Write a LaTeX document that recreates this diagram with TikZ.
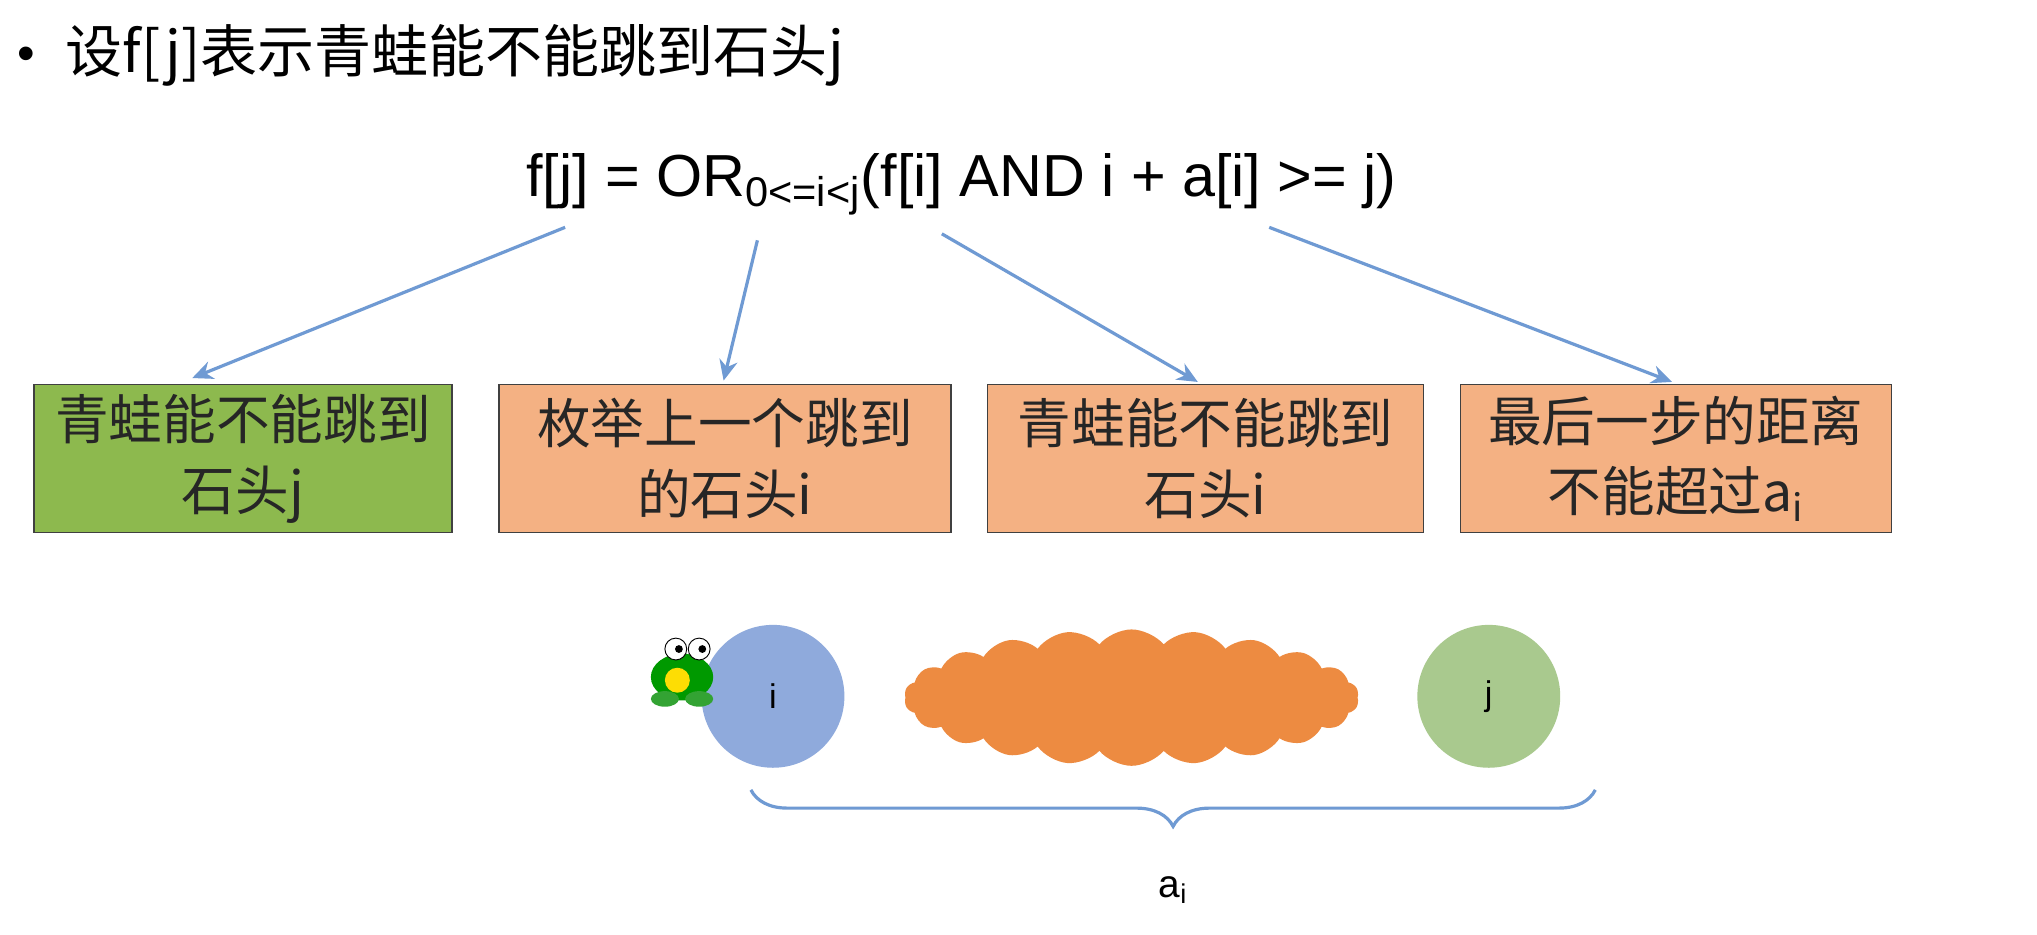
\documentclass[tikz,border=0pt]{standalone}
\usepackage{fontspec}
\setmainfont{Liberation Sans}
\newfontfamily\cjk{Noto Sans CJK SC}
\usetikzlibrary{shapes.symbols,decorations.pathreplacing,arrows.meta}
\definecolor{arr}{HTML}{6F9AD3}
\definecolor{gbox}{HTML}{8DB94E}
\definecolor{obox}{HTML}{F4B183}
\definecolor{ci}{HTML}{8FAADC}
\definecolor{cj}{HTML}{A9C98E}
\definecolor{cl}{HTML}{ED8B41}
\tikzset{
  box/.style={draw=black!75,line width=0.6pt,minimum width=#1,minimum height=2.28cm,align=center,font=\cjk\fontsize{23.5}{31}\selectfont,text=black!85,inner sep=0},
  con/.style={draw=arr,line width=1.4pt,-{Stealth[length=9pt,width=8pt]}},
}
\begin{document}
\begin{tikzpicture}[x=0.02cm,y=-0.02cm]
\useasboundingbox[fill=white] (0,0) rectangle (1568,719);
\node[font=\fontsize{22}{26}\selectfont] (bul) at (20,45) {•};
\node[anchor=west,font=\cjk\fontsize{25}{30}\selectfont,inner sep=0] (title) at (50,43) {设f[j]表示青蛙能不能跳到石头j};
\node[font=\fontsize{26}{30}\selectfont,inner sep=0] (eq) at (740,142) {f[j] = OR\textsubscript{0<=i<j}(f[i] AND i + a[i] >= j)};
\coordinate (s1) at (435,175); \coordinate (s2) at (583,185);
\coordinate (s3) at (725,180); \coordinate (s4) at (977,175);
\node[box=6.44cm,fill=gbox] (b1) at (187,353) {青蛙能不能跳到\\石头j};
\node[box=6.96cm,fill=obox] (b2) at (558,353) {枚举上一个跳到\\的石头i};
\node[box=6.72cm,fill=obox] (b3) at (928,353) {青蛙能不能跳到\\石头i};
\node[box=6.64cm,fill=obox] (b4) at (1290,353) {最后一步的距离\\不能超过a\textsubscript{i}};
\coordinate (e1) at (148,291); \coordinate (e2) at (557,293);
\coordinate (e3) at (922,294); \coordinate (e4) at (1287,294);
\draw[con] (s1) -- (e1);
\draw[con] (s2) -- (e2);
\draw[con] (s3) -- (e3);
\draw[con] (s4) -- (e4);
\node[circle,fill=ci,minimum size=2.2cm,font=\fontsize{15}{16}\selectfont] (ci) at (595,536) {i};
\node[circle,fill=cj,minimum size=2.2cm,font=\fontsize{15}{16}\selectfont] (cj) at (1146,536) {j};
\node[cloud,cloud puffs=22,cloud puff arc=100,aspect=3.6,fill=cl,minimum width=7.0cm,minimum height=2.1cm,inner sep=0] (cloud) at (871,537) {};
% frog
\begin{scope}[shift={(525,514)},scale=1.2]
\fill[green!60!black] (0,6) ellipse [x radius=20,y radius=15];
\fill[green!55!black!80] (-11,20) ellipse [x radius=9,y radius=5];
\fill[green!55!black!80] (11,20) ellipse [x radius=9,y radius=5];
\fill[yellow!80!orange] (-3,8) ellipse [x radius=8,y radius=8];
\draw[black,fill=white] (-4,-12) circle (7); \draw[black,fill=white] (11,-12) circle (7);
\fill (-2,-12) circle (2.5); \fill (13,-12) circle (2.5);
\end{scope}
\coordinate (bl) at (578,608); \coordinate (br) at (1228,608);
\draw[arr,line width=1.4pt,decorate,decoration={brace,mirror,amplitude=16pt}] (bl) -- (br);
\node[font=\fontsize{17}{20}\selectfont] (ai) at (903,685) {a\textsubscript{i}};
\end{tikzpicture}
\end{document}
